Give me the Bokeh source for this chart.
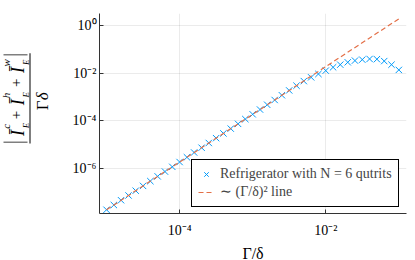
import math
from bokeh.plotting import figure
from bokeh.layouts import row
from bokeh.models import Range1d, FixedTicker, Label, BoxAnnotation, Legend, LegendItem
from bokeh.embed import file_html
from bokeh.resources import INLINE

# ---- data ----
gamma_over_delta = [
    1.00e-5, 1.26e-5, 1.58e-5, 2.00e-5, 2.51e-5, 3.16e-5, 3.98e-5, 5.01e-5, 6.31e-5, 7.94e-5,
    1.00e-4, 1.26e-4, 1.58e-4, 2.00e-4, 2.51e-4, 3.16e-4, 3.98e-4, 5.01e-4, 6.31e-4, 7.94e-4,
    1.00e-3, 1.26e-3, 1.58e-3, 2.00e-3, 2.51e-3, 3.16e-3, 3.98e-3, 5.01e-3, 6.31e-3, 7.94e-3,
    1.00e-2, 1.26e-2, 1.58e-2, 2.00e-2, 2.51e-2, 3.16e-2, 3.98e-2, 5.01e-2, 6.31e-2, 7.94e-2,
    1.00e-1,
]
current_ratio = [
    1.91e-8, 3.02e-8, 4.79e-8, 7.59e-8, 1.20e-7, 1.91e-7, 3.02e-7, 4.79e-7, 7.59e-7, 1.20e-6,
    1.91e-6, 3.02e-6, 4.79e-6, 7.59e-6, 1.20e-5, 1.91e-5, 3.02e-5, 4.79e-5, 7.59e-5, 1.20e-4,
    1.91e-4, 3.02e-4, 4.79e-4, 7.59e-4, 1.20e-3, 1.91e-3, 3.02e-3, 4.70e-3, 6.76e-3, 9.33e-3,
    1.29e-2, 1.78e-2, 2.29e-2, 2.88e-2, 3.39e-2, 3.72e-2, 3.98e-2, 3.89e-2, 3.24e-2, 2.29e-2,
    1.38e-2,
]
scaling_x = [1e-5, 1e-1]
scaling_y = [1.9e-8, 1.9]

x_tick_values = [1e-4, 1e-2]
x_tick_labels = ["10⁻⁴", "10⁻²"]
y_tick_values = [1e-6, 1e-4, 1e-2, 1.0]
y_tick_labels = ["10⁻⁶", "10⁻⁴", "10⁻²", "10⁰"]

series_labels = ["Refrigerator with N = 6 qutrits", "∼ (Γ/δ)² line"]
x_label = "Γ/δ"

BLUE = "#009AFA"
ORANGE = "#E36F47"
SERIF = "Liberation Serif"

H = 258
LW = 60  # width of the y-label strip

p = figure(
    frame_width=307, frame_height=200,
    x_axis_type="log", y_axis_type="log",
    x_range=Range1d(10 ** -5.096, 10 ** -0.895),
    y_range=Range1d(10 ** -7.876, 10 ** 0.504),
    output_backend="svg", toolbar_location=None,
    min_border_left=99 - LW, min_border_right=7, min_border_top=13, min_border_bottom=45,
)
p.outline_line_color = None
p.background_fill_color = "white"
p.border_fill_color = "white"

xt = FixedTicker(ticks=x_tick_values)
yt = FixedTicker(ticks=y_tick_values)
p.xaxis.ticker = xt
p.yaxis.ticker = yt
p.xgrid.ticker = xt
p.ygrid.ticker = yt
p.xaxis.major_label_overrides = dict(zip(x_tick_values, x_tick_labels))
p.yaxis.major_label_overrides = dict(zip(y_tick_values, y_tick_labels))

for ax in (p.xaxis, p.yaxis):
    ax.axis_line_color = "#333333"
    ax.axis_line_width = 1
    ax.major_tick_line_color = "#333333"
    ax.major_tick_in = 4
    ax.major_tick_out = 0
    ax.minor_tick_line_color = None
    ax.major_label_text_font = SERIF
    ax.major_label_text_font_size = "14px"
    ax.major_label_text_color = "black"
p.xaxis.major_label_standoff = 9
p.yaxis.major_label_standoff = 3
p.xaxis.axis_label = x_label
p.xaxis.axis_label_text_font = SERIF
p.xaxis.axis_label_text_font_size = "16px"
p.xaxis.axis_label_text_font_style = "normal"
p.xaxis.axis_label_text_color = "black"
p.xaxis.axis_label_standoff = 4

for g in (p.xgrid, p.ygrid):
    g.grid_line_color = "black"
    g.grid_line_alpha = 0.08
    g.grid_line_width = 1

r1 = p.scatter(gamma_over_delta, current_ratio, marker="x", size=9,
               line_color=BLUE, line_width=1)
r2 = p.line(scaling_x, scaling_y, line_color=ORANGE, line_dash="5 3", line_width=1.2)

legend = Legend(
    items=[LegendItem(label=series_labels[0], renderers=[r1]),
           LegendItem(label=series_labels[1], renderers=[r2])],
    location=(92, 6),
    padding=6, spacing=1, margin=0,
    glyph_width=16, glyph_height=16, label_height=16, label_standoff=6,
    label_text_font=SERIF, label_text_font_size="14px",
    border_line_color="black", border_line_width=1, border_line_alpha=1,
    background_fill_color="white", background_fill_alpha=1,
)
p.add_layout(legend)

# ---- y-axis label strip: |Ī^c_E + Ī^h_E + Ī^w_E| / Γδ (rotated) ----
q = figure(
    width=LW, height=H, x_range=Range1d(0, LW), y_range=Range1d(H, 0),
    x_axis_type=None, y_axis_type=None, output_backend="svg", toolbar_location=None,
    min_border=0,
)
q.outline_line_color = None
q.grid.visible = False
q.background_fill_color = "white"
q.border_fill_color = "white"


def lab(text, px, py, size, style="normal"):
    q.add_layout(Label(
        x=px, y=py, text=text, angle=math.pi / 2,
        text_align="center", text_baseline="middle",
        text_font=SERIF, text_font_size=f"{size}px", text_font_style=style,
        text_color="black",
    ))


def bar(x0, x1, y0, y1):
    q.add_layout(BoxAnnotation(
        left=x0, right=x1, top=y0, bottom=y1,
        fill_color="black", fill_alpha=1, line_color=None,
    ))


bar(3, 27, 170.5, 171.5)
lab("Ī", 17, 159, 18, "italic")
lab("c", 5.5, 150, 11, "italic")
lab("E", 25.5, 149, 9, "italic")
lab("+", 15.5, 135, 15)
lab("Ī", 17, 118, 18, "italic")
lab("h", 5.5, 109, 11, "italic")
lab("E", 25.5, 108, 9, "italic")
lab("+", 15.5, 92, 15)
lab("Ī", 17, 75, 18, "italic")
lab("w", 5.5, 65.5, 11, "italic")
lab("E", 25.5, 65, 9, "italic")
bar(3, 27, 54.5, 55.5)
bar(29, 30, 53, 173)
lab("Γ", 42, 122, 17)
lab("δ", 42, 110, 17, "italic")

layout = row(q, p, spacing=0)
open("out.html", "w").write(file_html(layout, INLINE))
